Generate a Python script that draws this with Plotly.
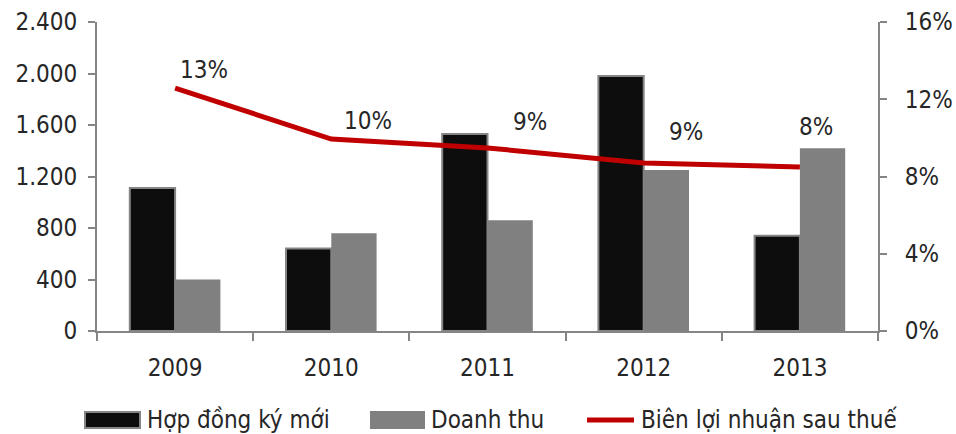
import plotly.graph_objects as go

years = ["2009", "2010", "2011", "2012", "2013"]
hop_dong_ky_moi = [1110, 640, 1530, 1980, 740]
doanh_thu = [400, 760, 860, 1250, 1420]
bien_loi_nhuan = [0.1258, 0.0994, 0.0948, 0.0870, 0.0849]

left_ticks = [0, 400, 800, 1200, 1600, 2000, 2400]
left_tick_text = ["0", "400", "800", "1.200", "1.600", "2.000", "2.400"]

# per-label nudges (px) for the margin percentages
label_xshift = [3, 11, 23, 23, -3]
label_yshift = [2, 2, 10, 15, 24]

FONT = "DejaVu Sans Condensed, DejaVu Sans, sans-serif"
TEXT = "#262626"
AXIS_GRAY = "#858585"
BLACK = "#0d0d0d"
GRAY = "#808080"
RED = "#c00000"

fig = go.Figure()

fig.add_trace(go.Bar(
    x=years, y=hop_dong_ky_moi, name="Hợp đồng ký mới",
    marker=dict(color=BLACK, line=dict(color=AXIS_GRAY, width=2)),
))
fig.add_trace(go.Bar(
    x=years, y=doanh_thu, name="Doanh thu",
    marker=dict(color=GRAY, line=dict(width=0)),
))
fig.add_trace(go.Scatter(
    x=years, y=bien_loi_nhuan, name="Biên lợi nhuận sau thuế",
    mode="lines", yaxis="y2",
    line=dict(color=RED, width=5),
))

# value labels on the margin line (x given as category index)
for i, (v, dx, dy) in enumerate(zip(bien_loi_nhuan, label_xshift, label_yshift)):
    fig.add_annotation(
        x=i, y=v, xref="x", yref="y2", text=f"{v:.0%}", showarrow=False,
        xanchor="left", yanchor="bottom", xshift=dx, yshift=dy,
        font=dict(size=24, color=TEXT, family=FONT),
    )

# legend drawn below the plot area (paper coordinates)
plot_l, plot_r, plot_t, plot_b = 97, 878, 22, 331
W, H = 956, 434


def px(xp):
    return (xp - plot_l) / (plot_r - plot_l)


def py(yp):
    return (plot_b - yp) / (plot_b - plot_t)


legend_items = [
    ("box", BLACK, AXIS_GRAY, 85, 140, 145, fig.data[0].name),
    ("box", GRAY, GRAY, 371, 424, 429, fig.data[1].name),
    ("line", RED, RED, 584, 637, 639, fig.data[2].name),
]
ly = 420
for kind, fill, edge, x0, x1, tx, name in legend_items:
    if kind == "box":
        fig.add_shape(
            type="rect", xref="paper", yref="paper",
            x0=px(x0), x1=px(x1), y0=py(ly + 8), y1=py(ly - 8),
            fillcolor=fill, line=dict(color=edge, width=2),
        )
    else:
        fig.add_shape(
            type="line", xref="paper", yref="paper",
            x0=px(x0 + 3), x1=px(x1 - 3), y0=py(ly), y1=py(ly),
            line=dict(color=fill, width=5),
        )
    fig.add_annotation(
        x=px(tx), y=py(ly), xref="paper", yref="paper", text=name,
        showarrow=False, xanchor="left", yanchor="middle",
        font=dict(size=24, color=TEXT, family=FONT),
    )

fig.update_layout(
    width=W, height=H,
    margin=dict(l=plot_l, r=W - plot_r, t=plot_t, b=H - plot_b, autoexpand=False),
    paper_bgcolor="white", plot_bgcolor="white",
    barmode="group", bargap=0.42, bargroupgap=0,
    font=dict(family=FONT, size=24, color=TEXT),
    showlegend=False,
    xaxis=dict(
        type="category", range=[-0.5, len(years) - 0.5],
        showline=True, linecolor=AXIS_GRAY, linewidth=2,
        ticks="outside", tickson="boundaries", ticklen=8, tickcolor=AXIS_GRAY,
        tickwidth=2, showgrid=False, ticklabelstandoff=14,
    ),
    yaxis=dict(
        range=[0, 2400], tickvals=left_ticks, ticktext=left_tick_text,
        showline=True, linecolor=AXIS_GRAY, linewidth=2, ticks="outside",
        ticklen=7, tickcolor=AXIS_GRAY, tickwidth=2, showgrid=False,
        zeroline=False, ticklabelstandoff=6,
    ),
    yaxis2=dict(
        range=[0, 0.16], dtick=0.04, tickformat=".0%", overlaying="y",
        side="right", showline=True, linecolor=AXIS_GRAY, linewidth=2,
        ticks="outside", ticklen=7, tickcolor=AXIS_GRAY, tickwidth=2,
        showgrid=False, zeroline=False, ticklabelstandoff=13,
    ),
)

fig.write_html("out.html")
